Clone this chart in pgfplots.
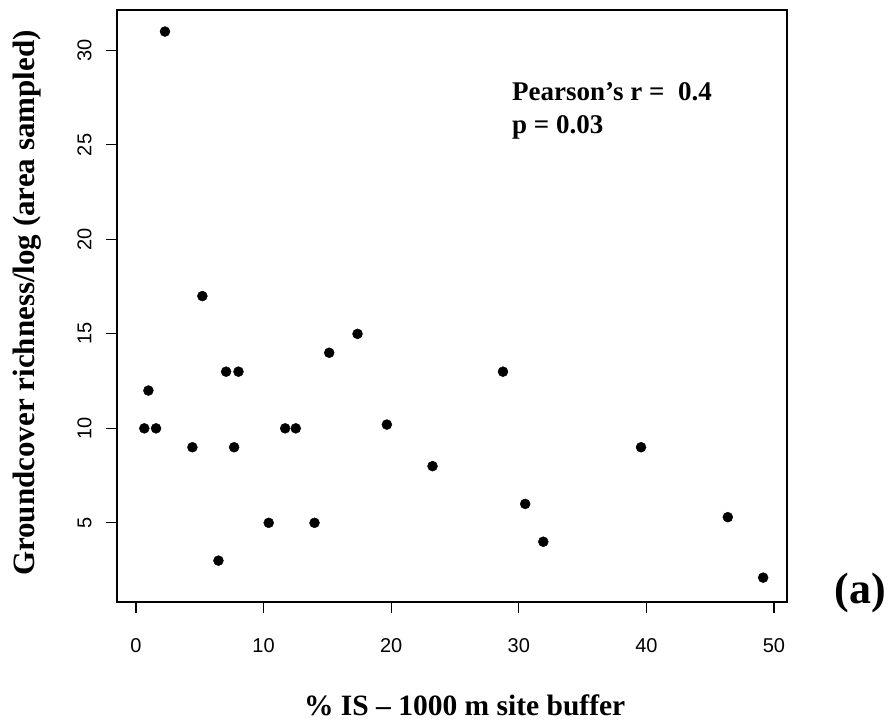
\documentclass[border=0pt]{standalone}
\usepackage{fontspec}
\setmainfont{Liberation Serif}
\newfontfamily\ticksans{Liberation Sans}
\usepackage{pgfplots}
\pgfplotsset{compat=1.18}
\begin{document}
\begin{tikzpicture}
\path[use as bounding box] (-117pt,-118pt) rectangle (771pt,602pt);
\begin{axis}[
  at={(0pt,0pt)}, anchor=south west,
  scale only axis, width=670pt, height=592pt,
  xmin=-1.49, xmax=51.02, ymin=0.81, ymax=32.14,
  axis line style={line width=1.1pt},
  tick style={line width=1.1pt, black},
  tick align=outside, major tick length=11pt,
  xtick pos=bottom, ytick pos=left,
  xtick={0,10,20,30,40,50}, xticklabels={0,10,20,30,40,50},
  ytick={5,10,15,20,25,30}, yticklabels={5,10,15,20,25,30},
  tick label style={font=\ticksans\fontsize{20}{22}\selectfont},
  xticklabel style={anchor=north, yshift=-22pt},
  yticklabel style={rotate=90, anchor=south, yshift=11pt},
  xlabel={\textbf{\% IS – 1000 m site buffer}},
  ylabel={\textbf{Groundcover richness/log (area sampled)}},
  xlabel style={font=\fontsize{29.5}{31}\selectfont, at={(axis description cs:0.519,-0.174)}, anchor=center},
  ylabel style={font=\fontsize{31}{33}\selectfont, at={(axis description cs:-0.134,0.505)}, anchor=center, rotate=0},
  clip=false,
]
\addplot[only marks, mark=*, mark size=5pt, black] coordinates {
(0.65,10) (0.97,12) (1.57,10) (2.27,31) (4.42,9) (5.2,17) (6.46,3) (7.06,13)
(7.69,9) (8.03,13) (10.4,5) (11.69,10) (12.52,10) (13.99,5) (15.14,14) (17.36,15)
(19.66,10.2) (23.24,8) (28.76,13) (30.5,6) (31.92,4) (39.58,9) (46.38,5.3) (49.15,2.1)
};
\node[anchor=base west, font=\bfseries\fontsize{27}{29}\selectfont, inner sep=0pt] at (axis description cs:0.5896,0.8468) {Pearson’s r =\ \ 0.4};
\node[anchor=base west, font=\bfseries\fontsize{27}{29}\selectfont, inner sep=0pt] at (axis description cs:0.5896,0.792) {p = 0.03};
\node[anchor=center, font=\bfseries\fontsize{44}{46}\selectfont, inner sep=0pt] at (axis description cs:1.109,0.015) {(a)};
\end{axis}
\end{tikzpicture}
\end{document}
